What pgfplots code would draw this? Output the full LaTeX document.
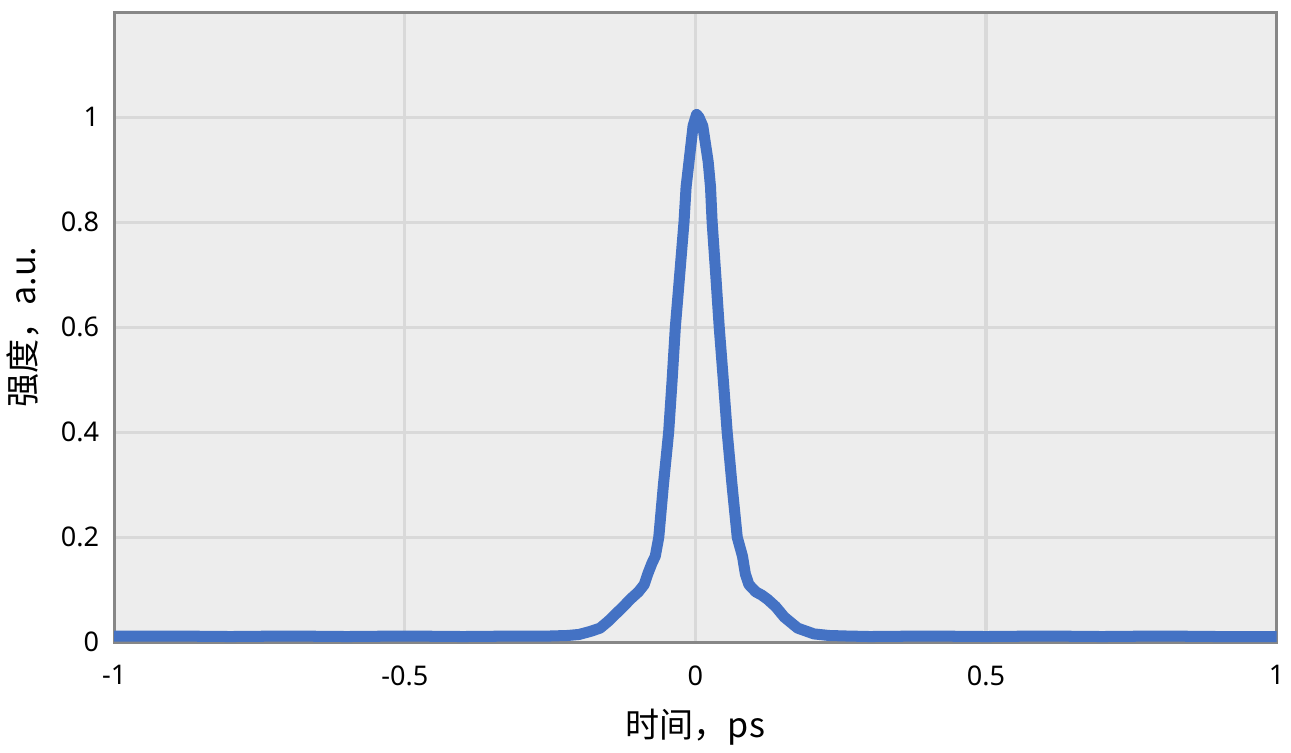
\documentclass[border=0pt]{standalone}
\usepackage{pgfplots}
\pgfplotsset{compat=1.18}
\usepackage{fontspec}
\setmainfont{Noto Sans}
\newfontfamily\cjk{Noto Sans CJK SC}
\definecolor{bg}{HTML}{EDEDED}
\definecolor{gridc}{HTML}{D9D9D9}
\definecolor{framec}{HTML}{878787}
\definecolor{line}{HTML}{4472C4}
\begin{document}
\begin{tikzpicture}
\begin{axis}[
  scale only axis,
  width=580pt, height=314.5pt,
  xmin=-1, xmax=1, ymin=0, ymax=1.2,
  xtick={-1,-0.5,0,0.5,1},
  ytick={0,0.2,0.4,0.6,0.8,1},
  /pgf/number format/assume math mode=true,
  tick label style={font=\fontsize{13.5}{16}\selectfont, text=black},
  xticklabel style={yshift=-8pt},
  yticklabel style={xshift=-4pt},
  major tick length=0pt,
  axis background/.style={fill=bg},
  grid=major,
  major grid style={gridc, line width=1.5pt},
  axis line style={framec, line width=1.5pt},
  xlabel={\cjk 时间，ps},
  ylabel={\cjk 强度，a.u.},
  label style={font=\cjk\fontsize{17}{20}\selectfont},
  xlabel style={yshift=-5pt},
  ylabel style={yshift=4pt},
  clip=true,
]
\addplot[line, line width=5.5pt, line join=round, line cap=round] coordinates {
(-1.0,0.012) (-0.9,0.012) (-0.8,0.011) (-0.7,0.012) (-0.6,0.011) (-0.5,0.012)
(-0.4,0.011) (-0.3,0.012) (-0.25,0.012) (-0.22,0.013) (-0.2,0.015) (-0.18,0.021)
(-0.164,0.027) (-0.15,0.04) (-0.138,0.053) (-0.124,0.068) (-0.112,0.082)
(-0.098,0.096) (-0.088,0.11) (-0.082,0.13) (-0.075,0.15) (-0.069,0.164)
(-0.063,0.2) (-0.055,0.3) (-0.046,0.4) (-0.040,0.5) (-0.0345,0.6) (-0.027,0.7)
(-0.0196,0.8) (-0.016,0.867) (-0.011,0.915) (-0.004,0.983) (0.002,1.005)
(0.006,1.0) (0.0127,0.983) (0.022,0.915) (0.026,0.867) (0.0288,0.8) (0.035,0.7)
(0.041,0.6) (0.048,0.5) (0.0547,0.4) (0.063,0.3) (0.072,0.2) (0.081,0.164)
(0.086,0.13) (0.092,0.11) (0.104,0.096) (0.114,0.09) (0.124,0.082) (0.138,0.068)
(0.153,0.048) (0.176,0.027) (0.204,0.016) (0.23,0.013) (0.26,0.012) (0.3,0.011)
(0.4,0.012) (0.5,0.011) (0.6,0.012) (0.7,0.011) (0.8,0.012) (0.9,0.011) (1.0,0.011)
};
\end{axis}
\path ([yshift=6pt]current axis.north);
\end{tikzpicture}
\end{document}
